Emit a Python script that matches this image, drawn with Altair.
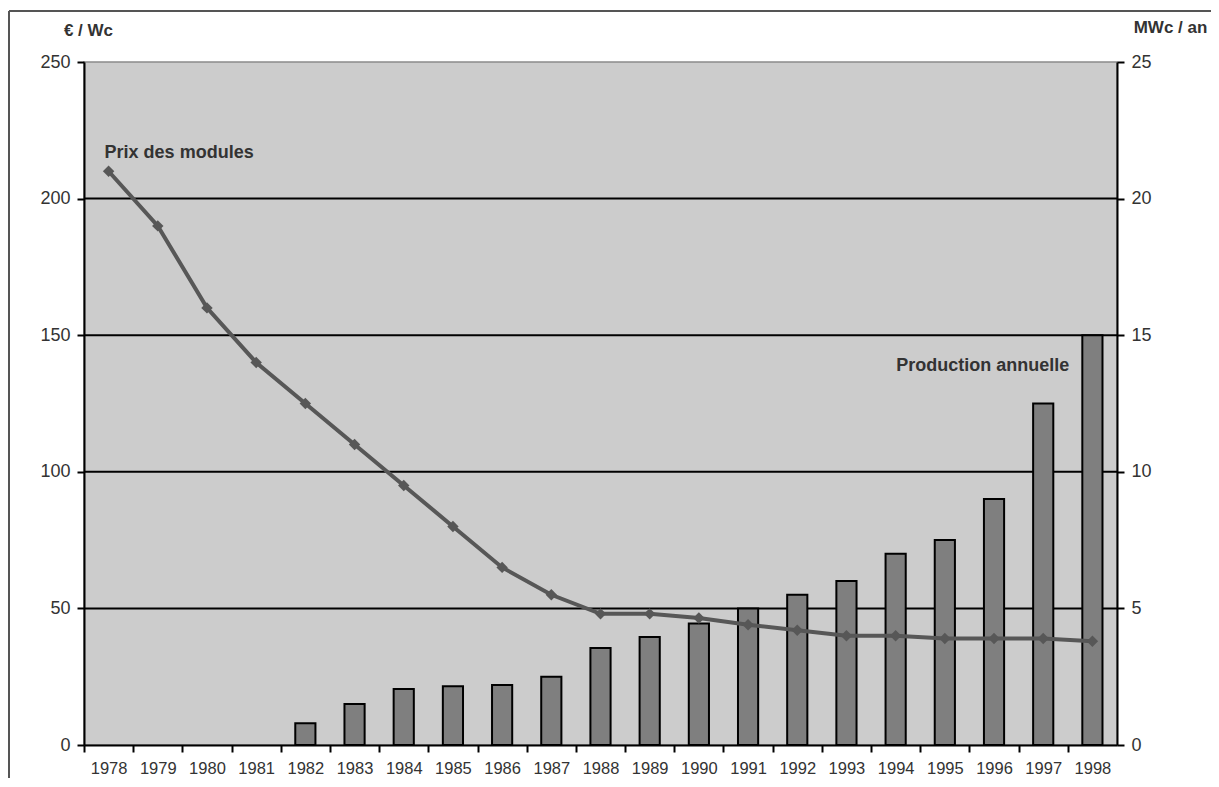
import altair as alt
import pandas as pd

# ---- data ----
years = [str(y) for y in range(1978, 1999)]
prix = [210, 190, 160, 140, 125, 110, 95, 80, 65, 55, 48, 48, 46.5, 44, 42, 40, 40, 39, 39, 39, 38]
production = [None, None, None, None, 0.8, 1.5, 2.05, 2.15, 2.2, 2.5, 3.55, 3.95, 4.45, 5.0,
              5.5, 6.0, 7.0, 7.5, 9.0, 12.5, 15.0]
left_ticks = [0, 50, 100, 150, 200, 250]
right_ticks = [0, 5, 10, 15, 20, 25]
grid_values = [50, 100, 150, 200]
label_prix = "Prix des modules"
label_prod = "Production annuelle"
title_left = "€ / Wc"
title_right = "MWc / an"

W, H = 1033, 683
STEP = W / len(years)
FONT = "Liberation Sans"
TXT = "#333333"

df = pd.DataFrame({"annee": years, "prix": prix, "production": production})
grid_df = pd.DataFrame({"v": grid_values})
one = pd.DataFrame({"a": [0]})

x_scale = alt.Scale(domain=years, paddingInner=0.59, paddingOuter=0.295)
left_scale = alt.Scale(domain=[0, 250], nice=False, zero=True)
right_scale = alt.Scale(domain=[0, 25], nice=False, zero=True)

x_axis = alt.Axis(
    title=None, labelAngle=0, labelFont=FONT, labelFontSize=16.5, labelColor=TXT,
    labelPadding=8, tickOffset=-STEP / 2, labelOffset=STEP / 2,
    tickSize=7, tickWidth=2, tickColor="black", domainColor="black", domainWidth=2,
)
x_enc = alt.X("annee:N", scale=x_scale, axis=x_axis, sort=years)

grid = alt.Chart(grid_df).mark_rule(color="black", strokeWidth=2).encode(
    y=alt.Y("v:Q", scale=left_scale, axis=None)
)

bars = alt.Chart(df).mark_bar(color="#7f7f7f", stroke="black", strokeWidth=2).encode(
    x=x_enc,
    y=alt.Y("production:Q", scale=right_scale,
            axis=alt.Axis(orient="right", values=right_ticks, grid=False,
                          title=title_right, titleAngle=0, titleX=53, titleY=-35,
                          titleAlign="center", titleBaseline="middle",
                          titleFont=FONT, titleFontSize=17, titleFontWeight="bold",
                          titleColor=TXT, labelFont=FONT, labelFontSize=18,
                          labelColor=TXT, labelPadding=7, tickSize=7, tickWidth=2,
                          tickColor="black", domainColor="black", domainWidth=2)),
)

line = alt.Chart(df).mark_line(color="#575757", strokeWidth=4).encode(
    x=x_enc,
    y=alt.Y("prix:Q", scale=left_scale,
            axis=alt.Axis(orient="left", values=left_ticks, grid=False,
                          title=title_left, titleAngle=0, titleX=4, titleY=-32,
                          titleAlign="center", titleBaseline="middle",
                          titleFont=FONT, titleFontSize=17, titleFontWeight="bold",
                          titleColor=TXT, labelFont=FONT, labelFontSize=18,
                          labelColor=TXT, labelPadding=7, tickSize=7, tickWidth=2,
                          tickColor="black", domainColor="black", domainWidth=2)),
)

points = alt.Chart(df).mark_point(shape="diamond", filled=True, size=130,
                                  color="#575757", opacity=1).encode(
    x=x_enc,
    y=alt.Y("prix:Q", scale=left_scale, axis=None),
)

ann_prix = alt.Chart(one).mark_text(
    text=label_prix, align="left", baseline="alphabetic", dx=-4,
    font=FONT, fontSize=18, fontWeight="bold", color=TXT,
).encode(
    x=alt.XDatum(years[0], type="nominal", scale=x_scale, axis=x_axis),
    y=alt.YDatum(215, scale=left_scale, axis=None),
)

ann_prod = alt.Chart(one).mark_text(
    text=label_prod, align="right", baseline="alphabetic", dx=26,
    font=FONT, fontSize=18, fontWeight="bold", color=TXT,
).encode(
    x=alt.XDatum(years[-2], type="nominal", scale=x_scale, axis=x_axis),
    y=alt.YDatum(137, scale=left_scale, axis=None),
)

frame_left = alt.Chart(one).mark_rule(color="#555555", strokeWidth=2).encode(
    x=alt.value(-75), y=alt.value(-51), y2=alt.value(H + 80)
)
frame_top = alt.Chart(one).mark_rule(color="#555555", strokeWidth=2).encode(
    x=alt.value(-75), x2=alt.value(W + 200), y=alt.value(-51)
)

chart = alt.layer(
    grid, bars, line, points, ann_prix, ann_prod, frame_left, frame_top
).resolve_scale(y="independent").properties(
    width=W, height=H,
    autosize=alt.AutoSizeParams(type="none"),
    padding={"left": 76, "top": 54, "right": 94, "bottom": 33},
).configure(
    background="white",
    view=alt.ViewConfig(fill="#cccccc", stroke="#8a8a8a", strokeWidth=1.5),
)

chart.save("out.html", embed_options={"renderer": "svg", "actions": False})
